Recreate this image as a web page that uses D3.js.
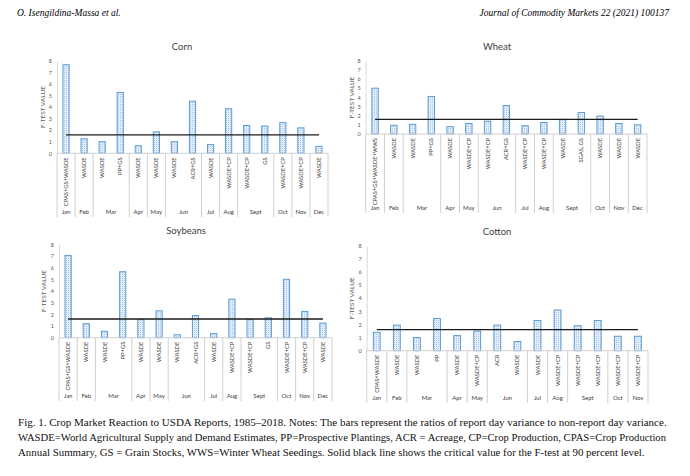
<!DOCTYPE html>
<html>
<head>
<meta charset="utf-8">
<script src="https://cdn.jsdelivr.net/npm/d3@7"></script>
<style>
  body { margin: 0; background: #fff; }
  svg { display: block; }
</style>
</head>
<body>
<svg id="chart" width="690" height="476"></svg>
<script>
// data
const yTicks = [0, 1, 2, 3, 4, 5, 6, 7, 8];

const cornCats = ["CPAS+GS+WASDE", "WASDE", "WASDE", "PP+GS", "WASDE", "WASDE", "WASDE", "ACR+GS", "WASDE", "WASDE+CP", "WASDE+CP", "GS", "WASDE+CP", "WASDE+CP", "WASDE"];
const cornMonths = ["Jan", "Feb", "Mar", "Mar", "Apr", "May", "Jun", "Jun", "Jul", "Aug", "Sept", "Sept", "Oct", "Nov", "Dec"];
const cornValues = [7.65, 1.25, 1.0, 5.25, 0.65, 1.85, 1.0, 4.5, 0.75, 3.85, 2.4, 2.35, 2.65, 2.2, 0.6];

const wheatCats = ["CPAS+GS+WASDE+WWS", "WASDE", "WASDE", "PP+GS", "WASDE", "WASDE+CP", "WASDE+CP", "ACR+GS", "WASDE+CP", "WASDE+CP", "WASDE", "SGAS, GS", "WASDE", "WASDE", "WASDE"];
const wheatMonths = ["Jan", "Feb", "Mar", "Mar", "Apr", "May", "Jun", "Jun", "Jul", "Aug", "Sept", "Sept", "Oct", "Nov", "Dec"];
const wheatValues = [5.0, 0.95, 1.05, 4.1, 0.8, 1.15, 1.4, 3.1, 0.9, 1.25, 1.6, 2.35, 1.95, 1.15, 1.0];

const soyCats = ["CPAS+GS+WASDE", "WASDE", "WASDE", "PP+GS", "WASDE", "WASDE", "WASDE", "ACR+GS", "WASDE", "WASDE+CP", "WASDE+CP", "GS", "WASDE+CP", "WASDE+CP", "WASDE"];
const soyMonths = ["Jan", "Feb", "Mar", "Mar", "Apr", "May", "Jun", "Jun", "Jul", "Aug", "Sept", "Sept", "Oct", "Nov", "Dec"];
const soyValues = [7.05, 1.2, 0.55, 5.65, 1.55, 2.3, 0.25, 1.9, 0.35, 3.3, 1.55, 1.7, 5.0, 2.25, 1.25];

const cottonCats = ["CPAS+WASDE", "WASDE", "WASDE", "PP", "WASDE", "WASDE+CP", "ACR", "WASDE", "WASDE", "WASDE+CP", "WASDE+CP", "WASDE+CP", "WASDE+CP", "WASDE+CP"];
const cottonMonths = ["Jan", "Feb", "Mar", "Mar", "Apr", "May", "Jun", "Jun", "Jul", "Aug", "Sept", "Sept", "Oct", "Nov"];
const cottonValues = [1.4, 1.95, 1.0, 2.45, 1.15, 1.5, 1.95, 0.7, 2.3, 3.1, 1.9, 2.3, 1.1, 1.1];

const criticalValue = 1.6;

const svg = d3.select("#chart");
const font = "Lato, 'Open Sans', sans-serif";

// dotted fill like the excel bars
const defs = svg.append("defs");
const pat = defs.append("pattern")
  .attr("id", "dots")
  .attr("patternUnits", "userSpaceOnUse")
  .attr("width", 2).attr("height", 2);
pat.append("rect").attr("width", 2).attr("height", 2).attr("fill", "#e3eef9");
pat.append("rect").attr("width", 1).attr("height", 1).attr("fill", "#a9c8e8");

// header
svg.append("text")
  .attr("x", 17).attr("y", 16)
  .style("font-family", "'Liberation Serif', serif")
  .style("font-style", "italic")
  .style("font-size", "9.5px")
  .text("O. Isengildina-Massa et al.");
svg.append("text")
  .attr("x", 669).attr("y", 16)
  .attr("text-anchor", "end")
  .style("font-family", "'Liberation Serif', serif")
  .style("font-style", "italic")
  .style("font-size", "9.5px")
  .text("Journal of Commodity Markets 22 (2021) 100137");

const panels = [
  { title: "Corn", cats: cornCats, months: cornMonths, values: cornValues,
    x0: 57, x1: 328, y0: 153.3, y8: 60.7, bottom: 217, titleX: 182, titleY: 50, labX: 43 },
  { title: "Wheat", cats: wheatCats, months: wheatMonths, values: wheatValues,
    x0: 365.7, x1: 647, y0: 134, y8: 60.7, bottom: 213, titleX: 497, titleY: 50, labX: 352 },
  { title: "Soybeans", cats: soyCats, months: soyMonths, values: soyValues,
    x0: 59, x1: 332, y0: 337.7, y8: 244.3, bottom: 401, titleX: 186, titleY: 234, labX: 44 },
  { title: "Cotton", cats: cottonCats, months: cottonMonths, values: cottonValues,
    x0: 366.7, x1: 648, y0: 350.7, y8: 245.7, bottom: 403, titleX: 497, titleY: 235, labX: 352 }
];

panels.forEach(p => {
  const g = svg.append("g");
  const idx = d3.range(p.values.length);

  const x = d3.scaleBand().domain(idx).range([p.x0, p.x1]);
  const y = d3.scaleLinear().domain([0, 8]).range([p.y0, p.y8]);

  // title
  g.append("text")
    .attr("x", p.titleX).attr("y", p.titleY)
    .attr("text-anchor", "middle")
    .style("font-family", font).style("font-size", "9.5px").style("fill", "#404040")
    .text(p.title);

  // y axis
  const axeY = d3.axisLeft(y).tickValues(yTicks).tickSize(0).tickPadding(5);
  const gy = g.append("g").attr("transform", `translate(${p.x0},0)`).call(axeY);
  gy.select(".domain").attr("stroke", "#d9d9d9");
  gy.selectAll("text").style("font-family", font).style("font-size", "5.5px").style("fill", "#595959");

  g.append("text")
    .attr("transform", `translate(${p.labX},${(p.y0 + p.y8) / 2}) rotate(-90)`)
    .attr("text-anchor", "middle")
    .attr("dy", "0.35em")
    .style("font-family", font).style("font-size", "6.5px").style("fill", "#595959")
    .text("F-TEST VALUE");

  // bars
  const bw = x.bandwidth() * 0.34;
  g.selectAll("rect.bar")
    .data(p.values)
    .enter()
    .append("rect")
    .attr("class", "bar")
    .attr("x", (d, i) => x(i) + (x.bandwidth() - bw) / 2)
    .attr("y", d => y(d))
    .attr("width", bw)
    .attr("height", d => y(0) - y(d))
    .attr("fill", "url(#dots)")
    .attr("stroke", "#5b9bd5")
    .attr("stroke-width", 1);

  // x axis line
  g.append("line")
    .attr("x1", p.x0).attr("x2", p.x1)
    .attr("y1", y(0)).attr("y2", y(0))
    .attr("stroke", "#d0d0d0").attr("stroke-width", 1);

  // critical value line
  g.append("line")
    .attr("x1", x(0) + x.bandwidth() / 2)
    .attr("x2", x(idx.length - 1) + x.bandwidth() / 2)
    .attr("y1", y(criticalValue)).attr("y2", y(criticalValue))
    .attr("stroke", "#1a1a1a").attr("stroke-width", 1.3);

  // category labels, rotated
  g.selectAll("text.cat")
    .data(p.cats)
    .enter()
    .append("text")
    .attr("class", "cat")
    .attr("transform", (d, i) => `translate(${x(i) + x.bandwidth() / 2},${y(0) + 4}) rotate(-90)`)
    .attr("text-anchor", "end")
    .attr("dy", "0.35em")
    .style("font-family", font).style("font-size", "5.8px").style("fill", "#404040")
    .text(d => d);

  // month groups
  const groups = [];
  p.months.forEach((m, i) => {
    const last = groups[groups.length - 1];
    if (last && last.name === m) last.end = i;
    else groups.push({ name: m, start: i, end: i });
  });

  const bounds = groups.map(gr => x(gr.start)).concat([p.x1]);
  g.selectAll("line.sep")
    .data(bounds)
    .enter()
    .append("line")
    .attr("class", "sep")
    .attr("x1", d => d).attr("x2", d => d)
    .attr("y1", y(0)).attr("y2", p.bottom)
    .attr("stroke", "#d0d0d0").attr("stroke-width", 1);

  g.selectAll("text.month")
    .data(groups)
    .enter()
    .append("text")
    .attr("class", "month")
    .attr("x", gr => (x(gr.start) + x(gr.end) + x.bandwidth()) / 2)
    .attr("y", p.bottom - 3)
    .attr("text-anchor", "middle")
    .style("font-family", font).style("font-size", "6px").style("fill", "#404040")
    .text(gr => gr.name);
});

// caption
const caption = [
  "Fig. 1.  Crop Market Reaction to USDA Reports, 1985\u20132018. Notes: The bars represent the ratios of report day variance to non-report day variance.",
  "WASDE=World Agricultural Supply and Demand Estimates, PP=Prospective Plantings, ACR = Acreage, CP=Crop Production, CPAS=Crop Production",
  "Annual Summary, GS = Grain Stocks, WWS=Winter Wheat Seedings. Solid black line shows the critical value for the F-test at 90 percent level."
];
const capLen = [649, 649, 627];
svg.selectAll("text.cap")
  .data(caption)
  .enter()
  .append("text")
  .attr("class", "cap")
  .attr("x", 18)
  .attr("y", (d, i) => 426 + i * 15)
  .style("font-family", "'Liberation Serif', serif")
  .style("font-size", "10.5px")
  .style("fill", "#111")
  .text(d => d)
  .each(function(d, i) {
    // fit each line to the width it has in the figure
    const w = this.getComputedTextLength();
    d3.select(this).style("font-size", (10.5 * capLen[i] / w).toFixed(2) + "px");
  });
</script>
</body>
</html>
